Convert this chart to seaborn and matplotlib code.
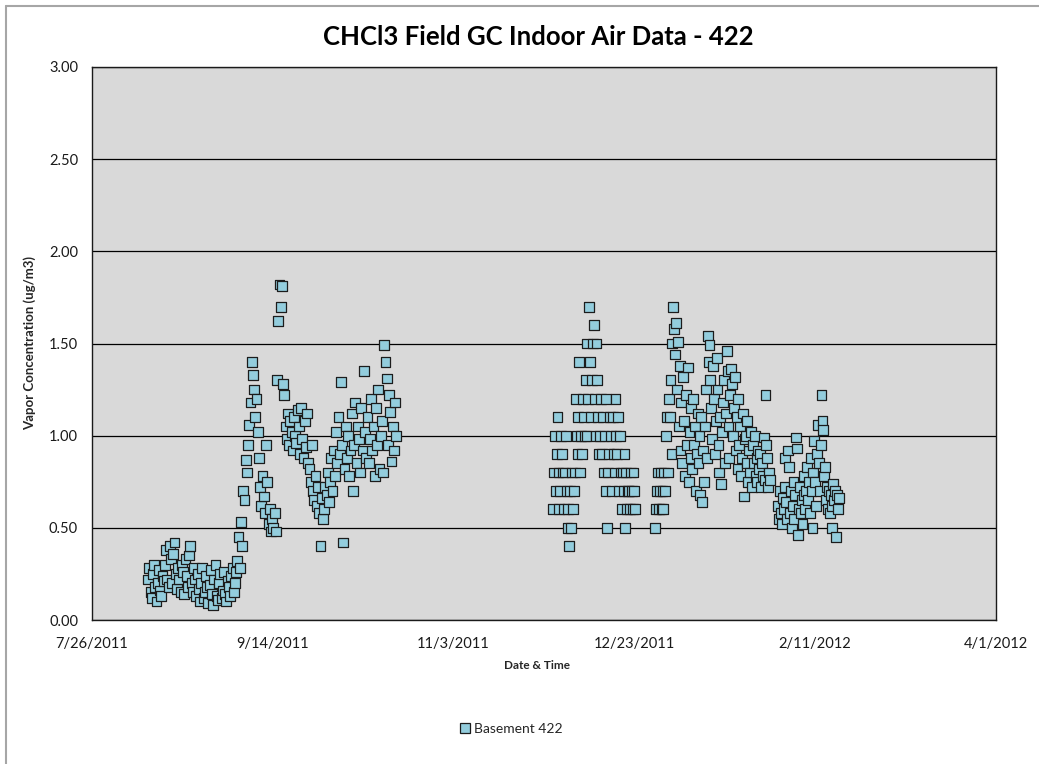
import numpy as np
import pandas as pd
import matplotlib
matplotlib.use("Agg")
import matplotlib.pyplot as plt
import matplotlib.dates as mdates
from matplotlib.lines import Line2D
from matplotlib.ticker import FixedLocator, MultipleLocator, FuncFormatter
import seaborn as sns

# ---------------- data ----------------
title = "CHCl3 Field GC Indoor Air Data - 422"
series_name = "Basement 422"
x_label = "Date & Time"
y_label = "Vapor Concentration (ug/m3)"
x_tick_labels = ["7/26/2011", "9/14/2011", "11/3/2011", "12/23/2011", "2/11/2012", "4/1/2012"]
y_ticks = [0.0, 0.5, 1.0, 1.5, 2.0, 2.5, 3.0]

# Aug - Oct 2011, sampled every 8 h
seg_a_start = "2011-08-10 12:00"
seg_a_vals = [
    0.22, 0.28, 0.15, 0.12, 0.25, 0.30, 0.18, 0.10, 0.20, 0.27, 0.16, 0.13, 0.24, 0.21,
    0.30, 0.38, 0.22, 0.18, 0.40, 0.33, 0.20, 0.36, 0.42, 0.25, 0.17, 0.28,
    0.22, 0.15, 0.30, 0.26, 0.14, 0.33, 0.24, 0.18, 0.35, 0.40, 0.20, 0.15,
    0.28, 0.22, 0.13, 0.25, 0.17, 0.10, 0.20, 0.28, 0.12, 0.15, 0.24, 0.18,
    0.09, 0.19, 0.27, 0.14, 0.08, 0.22, 0.30, 0.13, 0.11, 0.20, 0.25, 0.12,
    0.16, 0.26, 0.14, 0.10, 0.21, 0.18, 0.13, 0.24, 0.28, 0.15, 0.20, 0.26,
    0.32, 0.45, 0.28, 0.53, 0.40, 0.70, 0.65, 0.87, 0.80, 0.95, 1.06, 1.18,
    1.40, 1.33, 1.25, 1.10, 1.20, 1.02,
    0.88, 0.72, 0.62, 0.78, 0.67, 0.58, 0.95, 0.75, 0.52, 0.60, 0.48, 0.55,
    0.50, 0.58, 0.48,
    1.30, 1.62, 1.82, 1.70, 1.81, 1.28,
    1.22, 1.05, 0.98, 1.12, 0.95, 1.08, 1.02, 0.92, 1.10, 1.00, 0.96, 1.14,
    1.05, 0.90, 1.15, 0.98, 0.88, 1.08, 0.94, 1.12, 0.85,
    0.82, 0.75, 0.95, 0.70, 0.65, 0.78, 0.62, 0.72, 0.58, 0.40, 0.66, 0.55,
    0.60, 0.72, 0.68, 0.80, 0.64, 0.75, 0.88, 0.70, 0.92, 0.78, 1.02, 0.85,
    1.10, 0.90, 1.29, 0.95, 0.42, 0.82, 1.05, 0.88, 1.00, 0.78, 0.92, 1.12,
    0.70, 0.95, 1.18, 0.85, 1.05, 0.98, 0.80, 1.15, 0.92, 1.35, 1.02, 0.88,
    1.10, 0.85, 0.98, 1.20, 0.92, 1.05, 0.78, 1.15, 0.95, 1.25, 0.82, 1.00,
    1.08, 0.80, 1.49, 1.40, 1.31, 0.95, 1.22, 1.13, 0.86, 1.05, 0.92, 1.18, 1.00,
]
seg_a_freq = "8h"

# Dec 2011, sampled every 6 h (instrument resolution 0.1)
seg_b_start = "2011-11-30 12:00"
seg_b_vals = [
    0.6, 0.8, 1.0, 0.7,  0.9, 1.1, 0.8, 0.6,  0.7, 1.0, 0.9, 0.8,  0.6, 0.8, 1.0, 0.7,
    0.5, 0.6, 0.4, 0.7,  0.5, 0.8, 0.6, 0.7,  0.8, 1.2, 1.0, 0.9,  1.1, 1.4, 0.8, 1.0,
    0.9, 1.2, 1.1, 1.0,  1.3, 1.0, 1.5, 1.2,  1.7, 1.4, 1.1, 1.3,  1.5, 1.6, 1.2, 1.0,
    1.5, 1.3, 1.1, 0.9,  1.0, 1.2, 0.9, 1.1,  0.8, 1.0, 0.7, 1.2,  0.5, 0.8, 0.9, 1.1,
    1.0, 0.7, 1.1, 0.9,  0.8, 1.2, 1.0, 0.9,  1.1, 0.7, 1.0, 0.8,  0.6, 0.8, 0.7, 0.9,
    0.5, 0.8, 0.6, 0.7,  0.7, 0.6, 0.8, 0.7,  0.6, 0.8, 0.7, 0.6,
]
seg_b_freq = "6h"

# late Dec 2011 - Jan 2012, sampled every 6 h
seg_c_start = "2011-12-28 18:00"
seg_c_vals = [
    0.5, 0.6, 0.7, 0.8,  0.6, 0.7, 0.8, 0.6,  0.7, 0.6, 0.8, 0.7,  1.0, 1.1, 0.8, 1.2,
    1.1, 1.3, 0.9, 1.5,
    1.70, 1.58, 1.44, 1.61,  1.25, 1.51, 1.05, 1.38,  0.92, 1.18, 0.85, 1.32,
    1.08, 0.78, 1.22, 0.95,  1.37, 0.75, 1.02, 0.88,  1.15, 0.82, 1.20, 0.95,
    1.05, 0.70, 0.90, 1.12,  0.85, 1.00, 0.68, 1.10,  0.64, 0.92, 0.75, 1.05,
    1.25, 0.88, 1.54, 1.40,  1.49, 1.30, 1.15, 0.98,  1.38, 1.20, 0.90, 1.08,
    1.42, 1.25, 0.95, 0.80,  1.10, 0.74, 1.02, 1.18,  1.30, 0.85, 1.12, 1.46,
    1.35, 1.05, 0.88, 1.22,  1.36, 1.28, 1.00, 1.15,  1.32, 0.92, 1.10, 0.82,
    1.20, 0.95, 1.05, 0.78,  0.88, 1.12, 0.67, 0.98,  1.00, 0.85, 1.08, 0.75,
    0.92, 0.80, 1.02, 0.72,  0.95, 0.85, 1.00, 0.78,  0.88, 0.75, 0.92, 0.82,
    0.90, 0.72, 0.85, 0.78,  0.99, 0.76, 1.22, 0.95,  0.88, 0.72, 0.80, 0.76,
]
seg_c_freq = "6h"

# Feb 2012, sampled every 6 h
seg_d_start = "2012-01-31 18:00"
seg_d_vals = [
    0.62, 0.55, 0.70, 0.58,  0.52, 0.66, 0.60, 0.72,  0.88, 0.64, 0.55, 0.92,
    0.83, 0.58, 0.70, 0.50,  0.62, 0.75, 0.55, 0.68,  0.99, 0.93, 0.46, 0.60,
    0.72, 0.58, 0.65, 0.52,  0.68, 0.78, 0.60, 0.70,  0.83, 0.65, 0.75, 0.58,
    0.88, 0.70, 0.50, 0.80,  0.97, 0.75, 0.62, 0.90,  1.06, 0.85, 0.70, 0.95,
    1.22, 1.08, 1.03, 0.78,  0.83, 0.65, 0.72, 0.60,  0.70, 0.58, 0.68, 0.62,
    0.50, 0.74, 0.65, 0.70,  0.45, 0.68, 0.60, 0.66,
]
seg_d_freq = "6h"

# ---------------- build table ----------------
frames = []
for start, vals, freq in [(seg_a_start, seg_a_vals, seg_a_freq),
                          (seg_b_start, seg_b_vals, seg_b_freq),
                          (seg_c_start, seg_c_vals, seg_c_freq),
                          (seg_d_start, seg_d_vals, seg_d_freq)]:
    frames.append(pd.DataFrame({"time": pd.date_range(start, periods=len(vals), freq=freq),
                                "value": vals}))
df = pd.concat(frames, ignore_index=True)
df["series"] = series_name

tick_dates = pd.to_datetime(x_tick_labels, format="%m/%d/%Y")

# ---------------- style ----------------
sns.set_style("white")
plt.rcParams["font.family"] = ["Lato", "DejaVu Sans"]

W, H = 1039, 764
fig = plt.figure(figsize=(W / 100, H / 100), dpi=100)
ax = fig.add_axes([92 / W, 1 - 620 / H, (996 - 92) / W, (620 - 67) / H])
ax.set_facecolor("#D9D9D9")

fill = "#93CDDD"
edge = "#1c1c1c"
sns.scatterplot(data=df, x="time", y="value", hue="series", palette=[fill],
                marker="s", s=50, edgecolor=edge, linewidth=0.9, ax=ax,
                legend=False, zorder=3)

# axes limits and ticks
ax.set_xlim(mdates.date2num(tick_dates[0]), mdates.date2num(tick_dates[-1]))
ax.set_ylim(y_ticks[0], y_ticks[-1])

major_x = mdates.date2num(tick_dates)
ax.xaxis.set_major_locator(FixedLocator(major_x))
ax.xaxis.set_major_formatter(FuncFormatter(
    lambda v, p: x_tick_labels[int(np.argmin(np.abs(major_x - v)))]))
ax.xaxis.set_minor_locator(FixedLocator(np.arange(major_x[0], major_x[-1] + 0.1, 10)))

ax.yaxis.set_major_locator(FixedLocator(y_ticks))
ax.yaxis.set_major_formatter(FuncFormatter(lambda v, p: f"{v:.2f}"))
ax.yaxis.set_minor_locator(MultipleLocator(0.25))

ax.tick_params(axis="both", which="major", direction="out", length=5, width=1,
               color="black", labelsize=10.5, labelcolor="#1a1a1a", pad=4)
ax.tick_params(axis="both", which="minor", direction="out", length=4, width=1, color="black")
ax.tick_params(axis="x", which="major", pad=7)
ax.tick_params(axis="y", which="major", pad=5)

ax.grid(axis="y", which="major", color="black", linewidth=0.9, zorder=1)
ax.set_axisbelow(True)
for s in ax.spines.values():
    s.set_color("#1a1a1a")
    s.set_linewidth(1.0)
    s.set_visible(True)

ax.set_xlabel(x_label, fontsize=8.5, fontweight="bold")
ax.xaxis.set_label_coords((537 - 92) / (996 - 92), -(660 - 620) / (620 - 67))
ax.set_ylabel(y_label, fontsize=9.5, fontweight="bold", labelpad=9)

fig.text(538 / W, 1 - 37 / H, title, ha="center", va="center",
         fontsize=18.5, fontweight="bold", color="black")

# legend
handle = Line2D([], [], linestyle="none", marker="s", markersize=7,
                markerfacecolor=fill, markeredgecolor=edge, markeredgewidth=0.9)
fig.legend([handle], [series_name], loc="center", bbox_to_anchor=(510 / W, 1 - 729 / H),
           frameon=False, fontsize=10, handletextpad=0.15, handlelength=1.0)

# chart-area border (top and left visible)
fig.add_artist(Line2D([6 / W, 6 / W], [0, 1 - 6 / H], transform=fig.transFigure,
                      color="#a6a6a6", linewidth=1.5))
fig.add_artist(Line2D([6 / W, 1], [1 - 6 / H, 1 - 6 / H], transform=fig.transFigure,
                      color="#a6a6a6", linewidth=1.5))

fig.savefig("out.png", dpi=100, facecolor="white")
